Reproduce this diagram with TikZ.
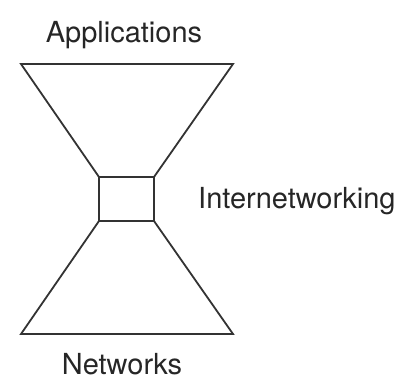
\documentclass[tikz,border=0pt]{standalone}
\usepackage{fontspec}
\setmainfont{TeX Gyre Heros}
\begin{document}
\begin{tikzpicture}[x=1pt,y=-1pt,
  shape line/.style={draw=black!80, line width=1.8pt, line join=miter},
  lbl/.style={font=\fontsize{29}{31}\selectfont, text=black!85, inner sep=0pt}]
\useasboundingbox (0,0) rectangle (396,379);
\coordinate (tl) at (21,64);
\coordinate (tr) at (233,64);
\coordinate (btl) at (99,177);
\coordinate (btr) at (154,177);
\coordinate (bbl) at (99,221);
\coordinate (bbr) at (154,221);
\coordinate (bl) at (21,334);
\coordinate (br) at (233,334);
\draw[shape line] (tl) -- (tr) -- (btr) -- (btl) -- cycle;
\draw[shape line] (btl) rectangle (bbr);
\draw[shape line] (bbl) -- (bbr) -- (br) -- (bl) -- cycle;
\node[lbl, anchor=base] (app) at (124,43) {Applications};
\node[lbl, anchor=base west] (inet) at (198,209) {Internetworking};
\node[lbl, anchor=base] (net) at (122,374) {Networks};
\end{tikzpicture}
\end{document}
